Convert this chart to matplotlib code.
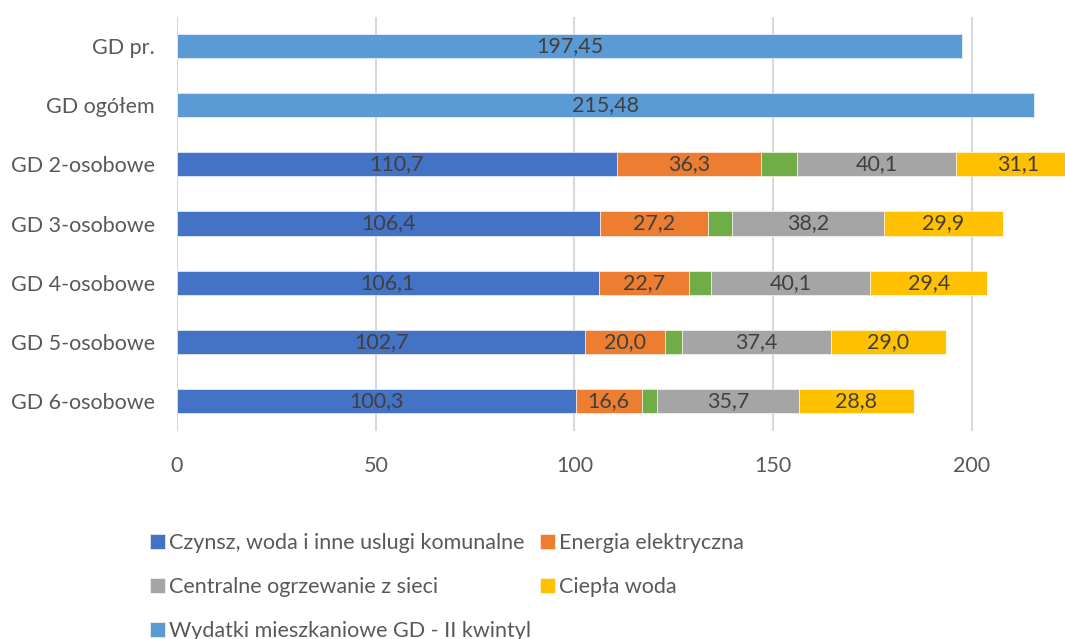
import matplotlib
matplotlib.use('Agg')
import matplotlib.pyplot as plt
import numpy as np

categories = ['GD pr.', 'GD ogółem', 'GD 2-osobowe', 'GD 3-osobowe',
              'GD 4-osobowe', 'GD 5-osobowe', 'GD 6-osobowe']

# stacked components for household sizes (rows 3-7), zeros for the first two rows
czynsz = [0, 0, 110.7, 106.4, 106.1, 102.7, 100.3]
energia = [0, 0, 36.3, 27.2, 22.7, 20.0, 16.6]
gaz = [0, 0, 9.0, 6.1, 5.5, 4.4, 3.9]          # unlabelled green series
ogrzewanie = [0, 0, 40.1, 38.2, 40.1, 37.4, 35.7]
ciepla_woda = [0, 0, 31.1, 29.9, 29.4, 29.0, 28.8]
wydatki = [197.45, 215.48, 0, 0, 0, 0, 0]

series = [
    ('Czynsz, woda i inne uslugi komunalne', czynsz, '#4472C4', '{:.1f}'),
    ('Energia elektryczna', energia, '#ED7D31', '{:.1f}'),
    ('Gaz', gaz, '#70AD47', None),
    ('Centralne ogrzewanie z sieci', ogrzewanie, '#A5A5A5', '{:.1f}'),
    ('Ciepła woda', ciepla_woda, '#FFC000', '{:.1f}'),
    ('Wydatki mieszkaniowe GD - II kwintyl', wydatki, '#5B9BD5', '{:.2f}'),
]

plt.rcParams['font.family'] = ['Lato', 'DejaVu Sans']
FS = 15.5

fig = plt.figure(figsize=(10.65, 6.39), dpi=100)
ax = fig.add_axes([177 / 1065, 1 - 430.5 / 639, 888 / 1065, 414 / 639])

y = np.arange(len(categories))
left = np.zeros(len(categories))
handles = {}
for name, vals, color, fmt in series:
    vals = np.array(vals, dtype=float)
    bars = ax.barh(y, vals, left=left, height=0.41, color=color,
                   edgecolor='white', linewidth=0.4, zorder=3)
    handles[name] = bars
    if fmt:
        for yi, v, l in zip(y, vals, left):
            if v > 0:
                ax.text(l + v / 2, yi, fmt.format(v).replace('.', ','),
                        ha='center', va='center', fontsize=FS,
                        color='#404040', zorder=4)
    left += vals

ax.set_yticks(y)
ax.set_yticklabels(categories)
ax.set_ylim(6.5, -0.5)
ax.set_xlim(0, 223.4)
ax.set_xticks([0, 50, 100, 150, 200])
ax.grid(axis='x', color='#D9D9D9', linewidth=1.5, zorder=0)
for s in ax.spines.values():
    s.set_visible(False)
ax.tick_params(axis='both', length=0, labelsize=FS, colors='#595959')
ax.tick_params(axis='x', pad=18)
ax.tick_params(axis='y', pad=16)

# legend laid out row-wise like the original (matplotlib fills column-wise)
order = ['Czynsz, woda i inne uslugi komunalne', 'Centralne ogrzewanie z sieci',
         'Wydatki mieszkaniowe GD - II kwintyl', 'Energia elektryczna', 'Ciepła woda']
leg = fig.legend([handles[n] for n in order], order, loc='upper left',
                 bbox_to_anchor=(131 / 1065, 1 - 514 / 639), ncol=2, frameon=False,
                 fontsize=FS, labelcolor='#595959', handlelength=0.7, handleheight=0.7,
                 handletextpad=0.15, columnspacing=0.45, labelspacing=1.1)

fig.savefig('out.png', dpi=100)
